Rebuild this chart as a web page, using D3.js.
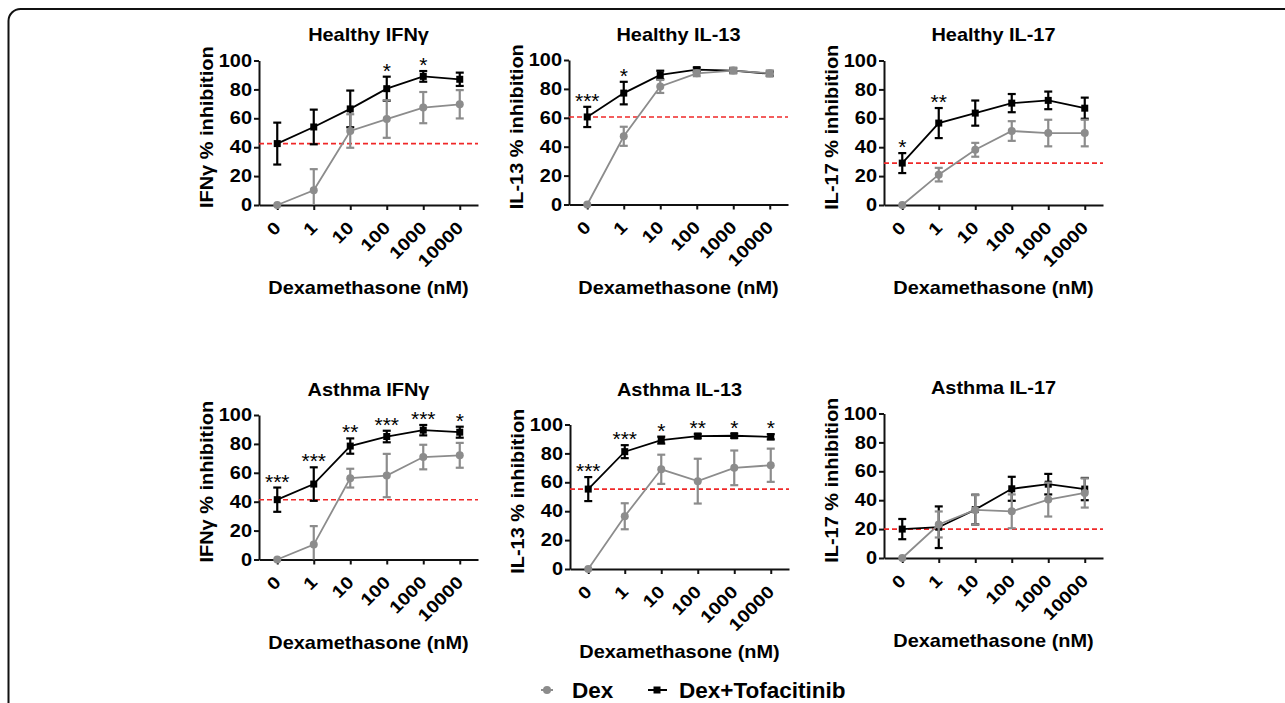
<!DOCTYPE html>
<html>
<head>
<meta charset="utf-8">
<script src="https://cdn.jsdelivr.net/npm/d3@7"></script>
<style>
  html, body { margin: 0; padding: 0; background: #fff; }
  svg { display: block; }
</style>
</head>
<body>
<svg id="chart" width="1285" height="703"></svg>
<script>
// doses on the x axis
const doses = ["0", "1", "10", "100", "1000", "10000"];
const yTicks = [0, 20, 40, 60, 80, 100];

const titles = ["Healthy IFNγ", "Healthy IL-13", "Healthy IL-17", "Asthma IFNγ", "Asthma IL-13", "Asthma IL-17"];
const yLabels = ["IFNγ % inhibition", "IL-13 % inhibition", "IL-17 % inhibition", "IFNγ % inhibition", "IL-13 % inhibition", "IL-17 % inhibition"];
const xLabel = "Dexamethasone (nM)";
const seriesNames = ["Dex", "Dex+Tofacitinib"];

// Dex+Tofacitinib mean / error per panel
const tofMean = [
  [42.5, 54, 66.5, 80.5, 89, 87],
  [60.6, 77.1, 89.7, 93.3, 92.7, 90.5],
  [29, 56.7, 63.6, 70.5, 72.4, 67],
  [41.4, 52.2, 78.5, 85.1, 89.5, 88.1],
  [55.3, 81.2, 89.2, 92, 92.2, 91.5],
  [20, 21.3, 33.5, 47.9, 51.1, 47.7]
];
const tofErr = [
  [14.5, 12, 12.7, 8.3, 3.7, 4.6],
  [7, 7.8, 2.9, 1.5, 1.5, 1.5],
  [6.9, 10.4, 8.7, 6.3, 6.1, 7.3],
  [8.4, 11.6, 5.3, 4, 3.6, 3.8],
  [8.3, 4.5, 2.4, 1.5, 1.5, 1.8],
  [7, 14.4, 10.3, 8.3, 7.1, 7.7]
];
// Dex alone
const dexMean = [
  [0, 10.2, 51.2, 59.5, 67.4, 69.7],
  [0, 47.2, 81.7, 90.8, 92.7, 90.8],
  [0, 21, 38.2, 51.2, 49.8, 49.8],
  [0, 10.3, 56.3, 58.1, 70.9, 72.1],
  [0, 36.5, 69, 60.8, 70, 71.8],
  [0, 23.2, 33.3, 32.3, 40.4, 45]
];
const dexErr = [
  [0, 14.6, 11.6, 13, 10.8, 9.8],
  [0, 6.6, 4.5, 2, 2, 2],
  [0, 4.7, 4.8, 6.8, 9.2, 9.2],
  [0, 12.8, 6.5, 15, 8.5, 8.6],
  [0, 9, 10.1, 15.5, 12, 11.5],
  [0, 9, 10.2, 11.7, 11.7, 10.1]
];
const stars = [
  ["", "", "", "*", "*", ""],
  ["***", "*", "", "", "", ""],
  ["*", "**", "", "", "", ""],
  ["***", "***", "**", "***", "***", "*"],
  ["***", "***", "*", "**", "*", "*"],
  ["", "", "", "", "", ""]
];

const FONT = "'Liberation Sans', Arial, Helvetica, sans-serif";
const SX = 1.14; // glyphs in the figure are a bit wide
const GREY = "#8c8c8c";
const W = 219, H = 144.5;

// where each panel's plot area sits
const layout = [
  { x: 259, top: 60.5, titleY: 35 },
  { x: 569, top: 60, titleY: 35 },
  { x: 884, top: 60.5, titleY: 35 },
  { x: 259, top: 415, titleY: 390 },
  { x: 570, top: 424.5, titleY: 390 },
  { x: 884, top: 413.5, titleY: 388 }
];

const svg = d3.select("#chart");

// outer frame, open on the right
svg.append("path")
  .attr("d", "M8.5,703 V21 A12,12 0 0 1 20.5,9 H1285")
  .attr("fill", "none")
  .attr("stroke", "#111")
  .attr("stroke-width", 2);

function addText(g, txt, x, y, opts) {
  opts = opts || {};
  return g.append("text")
    .attr("transform", `translate(${x},${y}) rotate(${opts.rot || 0}) scale(${opts.sx || SX},1)`)
    .attr("text-anchor", opts.anchor || "middle")
    .attr("font-family", FONT)
    .attr("font-weight", opts.weight || "bold")
    .attr("font-size", opts.size || 17.5)
    .attr("fill", "#000")
    .text(txt);
}

const x = d3.scalePoint().domain(doses).range([0, W]).padding(0.5);
const y = d3.scaleLinear().domain([0, 100]).range([H, 0]);

function drawSeries(g, means, errs, color, marker) {
  const line = d3.line().x((d, i) => x(doses[i])).y(d => y(d));
  g.append("path")
    .datum(means)
    .attr("d", line)
    .attr("fill", "none")
    .attr("stroke", color)
    .attr("stroke-width", 1.8);

  const eb = g.append("g").attr("stroke", color).attr("stroke-width", 2.2);
  means.forEach((m, i) => {
    const e = errs[i];
    if (!e) return;
    const cx = x(doses[i]);
    const lo = Math.max(0, m - e);
    eb.append("line").attr("x1", cx).attr("x2", cx).attr("y1", y(m + e)).attr("y2", y(lo));
    eb.append("line").attr("x1", cx - 4).attr("x2", cx + 4).attr("y1", y(m + e)).attr("y2", y(m + e));
    if (m - e >= 0) {
      eb.append("line").attr("x1", cx - 4).attr("x2", cx + 4).attr("y1", y(lo)).attr("y2", y(lo));
    }
  });

  if (marker === "square") {
    g.selectAll(null).data(means).enter().append("rect")
      .attr("x", (d, i) => x(doses[i]) - 3.5)
      .attr("y", d => y(d) - 3.5)
      .attr("width", 7).attr("height", 7)
      .attr("fill", color);
  } else {
    g.selectAll(null).data(means).enter().append("circle")
      .attr("cx", (d, i) => x(doses[i]))
      .attr("cy", d => y(d))
      .attr("r", 4)
      .attr("fill", color);
  }
}

layout.forEach((p, k) => {
  const g = svg.append("g").attr("transform", `translate(${p.x},${p.top})`);

  // y axis
  const ya = g.append("g")
    .call(d3.axisLeft(y).tickValues(yTicks).tickSize(5).tickSizeOuter(0).tickPadding(2));
  ya.select(".domain").attr("stroke", "#111").attr("stroke-width", 2);
  ya.selectAll(".tick line").attr("stroke", "#111").attr("stroke-width", 2);
  ya.selectAll(".tick text")
    .attr("x", 0)
    .attr("transform", `translate(-7,0) scale(${SX},1)`)
    .attr("font-family", FONT).attr("font-weight", "bold").attr("font-size", 17.5).attr("fill", "#000");

  // x axis
  const xa = g.append("g").attr("transform", `translate(0,${H})`)
    .call(d3.axisBottom(x).tickSize(5).tickSizeOuter(0));
  xa.select(".domain").attr("stroke", "#111").attr("stroke-width", 2);
  xa.selectAll(".tick line").attr("stroke", "#111").attr("stroke-width", 2);
  xa.selectAll(".tick text")
    .attr("x", 0).attr("y", 0).attr("dy", 0)
    .attr("text-anchor", "end")
    .attr("transform", `translate(4,24) rotate(-45) scale(${SX},1)`)
    .attr("font-family", FONT).attr("font-weight", "bold").attr("font-size", 17.5).attr("fill", "#000");

  // reference line at Dex+Tofacitinib value without dexamethasone
  g.append("line")
    .attr("x1", 0).attr("x2", W)
    .attr("y1", y(tofMean[k][0])).attr("y2", y(tofMean[k][0]))
    .attr("stroke", "#f02828")
    .attr("stroke-width", 1.6)
    .attr("stroke-dasharray", "5,3");

  drawSeries(g, tofMean[k], tofErr[k], "#000", "square");
  drawSeries(g, dexMean[k], dexErr[k], GREY, "circle");

  // significance stars
  stars[k].forEach((s, i) => {
    if (!s) return;
    addText(g, s, x(doses[i]), y(tofMean[k][i] + tofErr[k][i]) + 1, { weight: "normal", size: 19.5, sx: 1.08 });
  });

  // labels
  addText(svg, titles[k], p.x + W / 2, p.titleY + 6.3);
  addText(svg, xLabel, p.x + W / 2, p.top + H + 89);
  addText(svg, yLabels[k], p.x - 46, p.top + H / 2 - 5.5, { rot: -90 });
});

// legend
const lg = svg.append("g");
lg.append("line").attr("x1", 541).attr("x2", 553).attr("y1", 690).attr("y2", 690)
  .attr("stroke", GREY).attr("stroke-width", 2);
lg.append("circle").attr("cx", 547).attr("cy", 690).attr("r", 4).attr("fill", GREY);
addText(lg, seriesNames[0], 572, 698, { anchor: "start", size: 22.5, sx: 1 });
lg.append("line").attr("x1", 648).attr("x2", 667).attr("y1", 690).attr("y2", 690)
  .attr("stroke", "#000").attr("stroke-width", 2);
lg.append("rect").attr("x", 653.5).attr("y", 686.5).attr("width", 7).attr("height", 7).attr("fill", "#000");
addText(lg, seriesNames[1], 679, 698, { anchor: "start", size: 22.5, sx: 1 });
</script>
</body>
</html>
